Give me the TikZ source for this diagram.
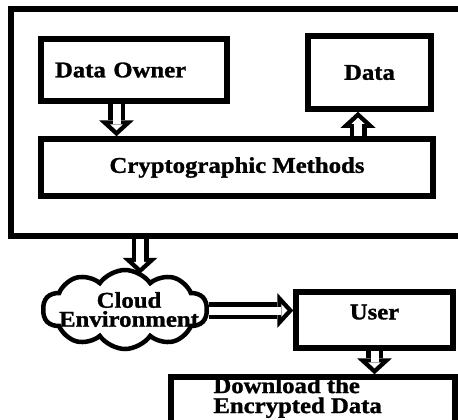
\documentclass[tikz,border=0pt]{standalone}
\usepackage{fontspec}
\setmainfont{Liberation Serif}[FakeStretch = 1.1, BoldFeatures = {FakeBold = 1.2}]
\usetikzlibrary{arrows.meta,shapes.symbols}
\tikzset{box/.style = {rectangle, draw = black, line width = 5.5pt, inner sep = 0pt, font = \fontsize{22.5}{18}\selectfont\bfseries}}
\tikzset{words/.style = {font = \fontsize{22.5}{18}\selectfont\bfseries, inner sep = 0pt}}
\tikzset{fat/.style = {line width = 17pt, -{Triangle[length = 16pt, width = 35pt, line width = 0pt]},
    postaction = {draw = white, line width = 8pt, shorten > = 6pt, -{Triangle[length = 6pt, width = 13pt, line width = 0pt]}}}}

\begin{document}
\begin{tikzpicture}[x = 1pt, y = -1pt]
            \useasboundingbox (0, 0) rectangle (458, 420);
            \node (outer) at (236.5, 122.5) [box, line width = 6pt, minimum width = 451pt, minimum height = 227pt] {};
            \node (owner) at (134, 70) [box, minimum width = 186pt, minimum height = 62pt, text width = 158pt, align = left, inner xsep = 14pt] {Data Owner};
            \node (data) at (369.5, 72.5) [box, minimum width = 123pt, minimum height = 73pt] {Data};
            \node (crypto) at (237, 167.5) [box, minimum width = 392pt, minimum height = 57pt] {Cryptographic Methods};
            \node (cloud) at (125, 309.5) [cloud, draw = black, line width = 4.5pt, cloud puffs = 10, cloud puff arc = 110, cloud ignores aspect, minimum width = 164pt, minimum height = 79pt, inner sep = 0pt,
                label = {[words, align = center, xshift = 4pt]center:Cloud\\[1pt]Environment}] {};
            \node (user) at (374.5, 320) [box, minimum width = 157pt, minimum height = 56pt, text depth = 16pt] {User};
            \node (download) at (313, 405) [box, minimum width = 284pt, minimum height = 56pt,
                label = {[words, align = left, anchor = north west, xshift = 45pt, yshift = -3pt]north west:Download the\\[2pt]Encrypted Data}] {};
            \draw [fat] ([xshift = -17.5pt]owner.south) -- ([xshift = -17.5pt]owner.south |- crypto.north);
            \draw [fat] ([xshift = -11.5pt]data.south |- crypto.north) -- ([xshift = -11.5pt]data.south);
            \draw [fat] ([xshift = 15pt]cloud.north |- outer.south) -- ([xshift = 15pt, yshift = -6pt]cloud.north);
            \draw [fat] ([yshift = 9.5pt]user.west -| cloud.east) -- ([yshift = 9.5pt]user.west);
            \draw [fat] (user.south) -- (user.south |- download.north);
        \end{tikzpicture}
\end{document}
